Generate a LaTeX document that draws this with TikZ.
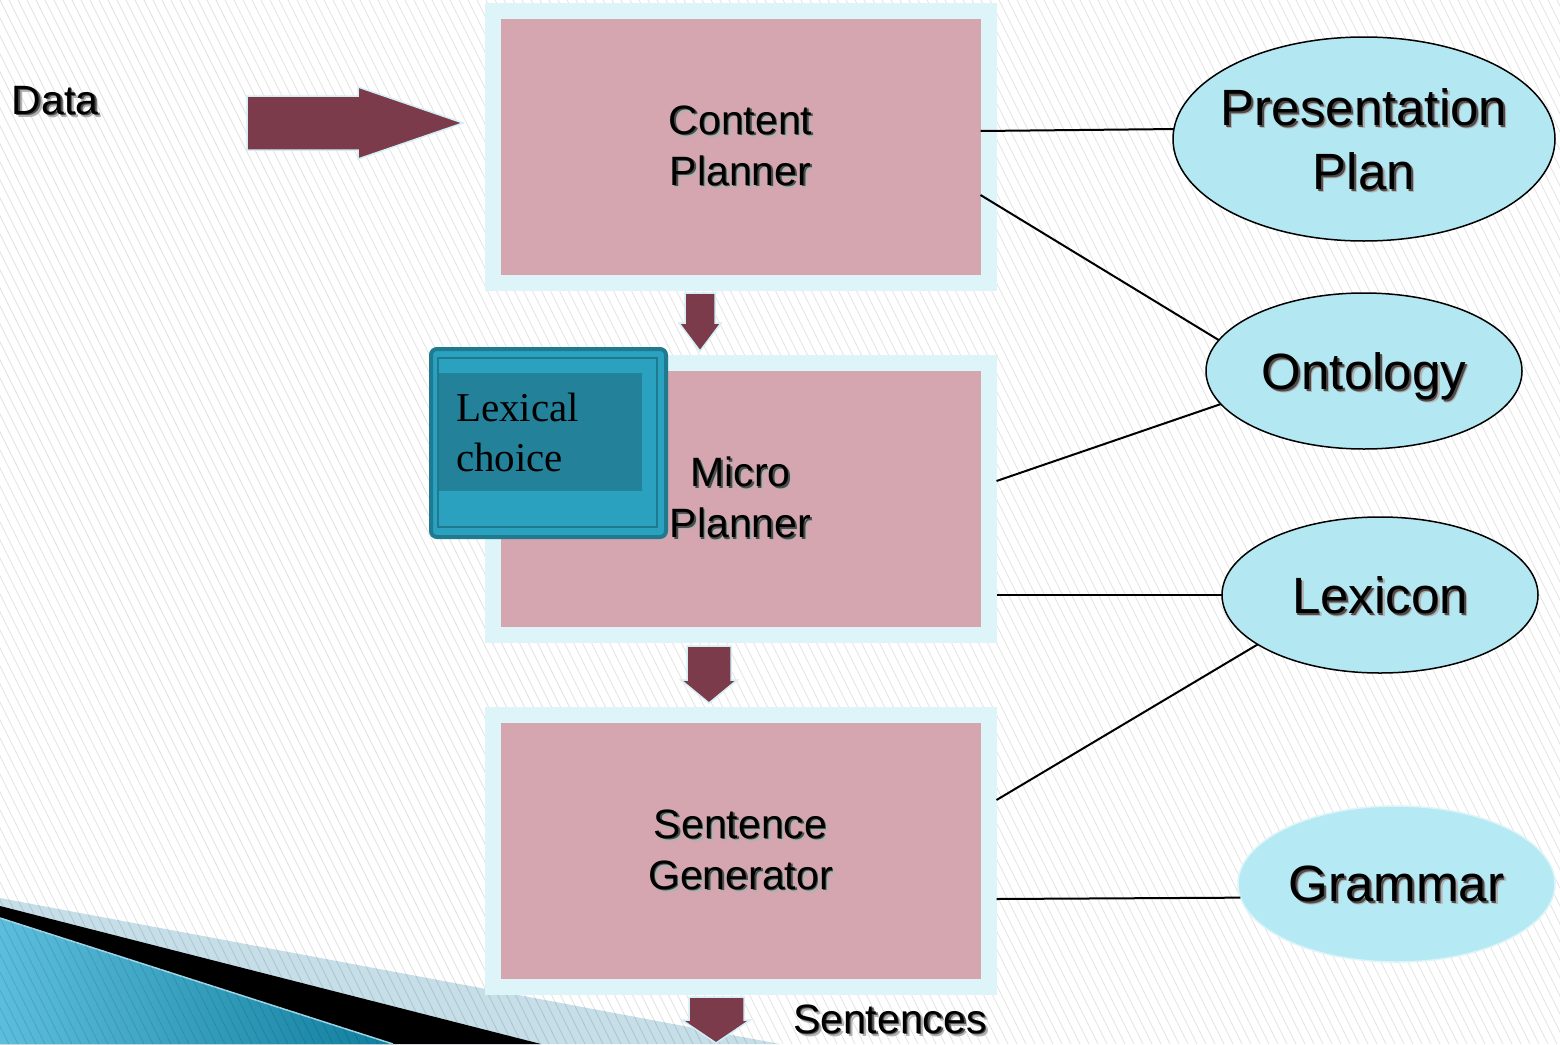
\documentclass[tikz,border=0pt]{standalone}
\usepackage{fontspec}
\setmainfont{Liberation Sans}
\newfontfamily\lexserif{Liberation Serif}
\usetikzlibrary{shapes.geometric}
\definecolor{pinkc}{HTML}{D5A6AF}
\definecolor{cyanb}{HTML}{DDF4F8}
\definecolor{maroonc}{HTML}{7B3B4B}
\definecolor{arrowedge}{HTML}{D3EEF4}
\definecolor{ellc}{HTML}{B3E7F2}
\definecolor{gramc}{HTML}{B5E9F4}
\definecolor{tealc}{HTML}{2AA1BE}
\definecolor{tealdk}{HTML}{23819A}
\definecolor{tealedge}{HTML}{1F7A8F}
\definecolor{paleband}{HTML}{C6DEE8}
\definecolor{bluelt}{HTML}{5CBEDC}
\definecolor{bluedk}{HTML}{0F7E9E}
\newcommand{\shd}[1]{\leavevmode\rlap{\kern3pt\raisebox{-3pt}{\textcolor{black!30}{#1}}}\rlap{\kern1.6pt\raisebox{-1.6pt}{\textcolor{black!70}{#1}}}#1}
\tikzset{
  planbox/.style={rectangle, fill=pinkc, draw=cyanb, line width=16pt,
    minimum width=496pt, minimum height=272pt, inner sep=0pt, outer sep=0pt,
    align=center, font=\fontsize{41}{51}\selectfont},
  know/.style={ellipse, fill=ellc, draw=black, line width=1.5pt, inner sep=0pt,
    outer sep=0pt, align=center, font=\fontsize{51}{64}\selectfont, text depth=0pt,
    minimum width=316pt, minimum height=156pt},
  link/.style={draw=black, line width=2pt},
  blockarrow/.style={fill=maroonc, draw=arrowedge, line width=1.5pt, line join=miter},
  plainlabel/.style={inner sep=0pt, outer sep=0pt, font=\fontsize{41}{51}\selectfont}
}
\begin{document}
\begin{tikzpicture}[x=1pt,y=-1pt]
\useasboundingbox (0,0) rectangle (1560,1044);
\fill[white] (0,0) rectangle (1560,1044);
% bottom-left decoration
\fill[paleband] (0,898) -- (780,1044) -- (0,1044) -- cycle;
\fill[black] (0,906) -- (541,1044) -- (0,1044) -- cycle;
\shade[left color=bluelt, right color=bluedk] (0,918) -- (393,1044) -- (0,1044) -- cycle;
\draw[color=bluelt!60!white, line width=1.5pt] (0,918) -- (393,1044);
% background hatching
\begin{scope}
  \clip (0,0) rectangle (1560,1044);
  \foreach \i in {-540,-531,...,1560}
    \draw[black, opacity=0.1, line width=0.9pt] (\i,0) -- ++(522,1044);
\end{scope}
% Data arrow
\node[plainlabel, anchor=base west] (data) at (12,114) {\shd{Data}};
\filldraw[blockarrow] (247,96) -- (358,96) -- (358,87) -- (463,123) -- (358,159) -- (358,150) -- (247,150) -- cycle;
% planner boxes
\node[planbox] (cp) at (740.5,147) {\shd{Content}\\\shd{Planner}};
\node[planbox] (mp) at (740.5,499) {\shd{Micro}\\\shd{Planner}};
\node[planbox] (sg) at (740.5,851) {\shd{Sentence}\\\shd{Generator}};
% down arrows
\filldraw[blockarrow] (685,293) -- (715,293) -- (715,323) -- (721,323) -- (700,351) -- (679,323) -- (685,323) -- cycle;
\filldraw[blockarrow] (687,646) -- (731,646) -- (731,680) -- (737,680) -- (709,703) -- (681,680) -- (687,680) -- cycle;
\filldraw[blockarrow] (689,997) -- (744,997) -- (744,1020) -- (750,1020) -- (716,1043) -- (682,1020) -- (689,1020) -- cycle;
\node[plainlabel, anchor=base west] (sent) at (793,1033) {\shd{Sentences}};
% knowledge sources
\node[know, minimum width=382pt, minimum height=204pt] (pp) at (1364,139)
  {\makebox[0pt]{\shd{Presentation}}\\\makebox[0pt]{\shd{Plan}}};
\node[know] (ont) at (1364,371) {\shd{Ontology}};
\node[know] (lex) at (1380,595) {\shd{Lexicon}};
\node[know, fill=gramc, draw=cyanb, minimum width=317pt] (gram) at (1396.5,884) {\shd{Grammar}};
% links
\draw[link] ([xshift=-8pt,yshift=16pt]cp.east) -- (pp.177.6);
\draw[link] ([xshift=-8pt,yshift=-48pt]cp.east) -- (ont.168);
\draw[link] ([xshift=8pt,yshift=18pt]mp.east) -- (ont.193);
\draw[link] ([xshift=8pt,yshift=-96pt]mp.east) -- (lex.180);
\draw[link] ([xshift=8pt,yshift=51pt]sg.east) -- (lex.202);
\draw[link] ([xshift=8pt,yshift=-48pt]sg.east) -- (gram.185.5);
% lexical choice box
\node[rectangle, fill=tealc, draw=tealedge, line width=4pt, rounded corners=6pt,
  minimum width=235pt, minimum height=188pt, inner sep=0pt, outer sep=0pt] (lcbox) at (548.5,443) {};
\draw[tealedge, line width=1.5pt] (438,358) rectangle (657,527);
\node[rectangle, fill=tealdk, minimum width=203pt, minimum height=118pt, inner xsep=17pt, inner ysep=0pt,
  text width=169pt, align=left, font=\lexserif\fontsize{41}{50}\selectfont] (lc) at (540.5,432) {Lexical\\choice};
\end{tikzpicture}
\end{document}
